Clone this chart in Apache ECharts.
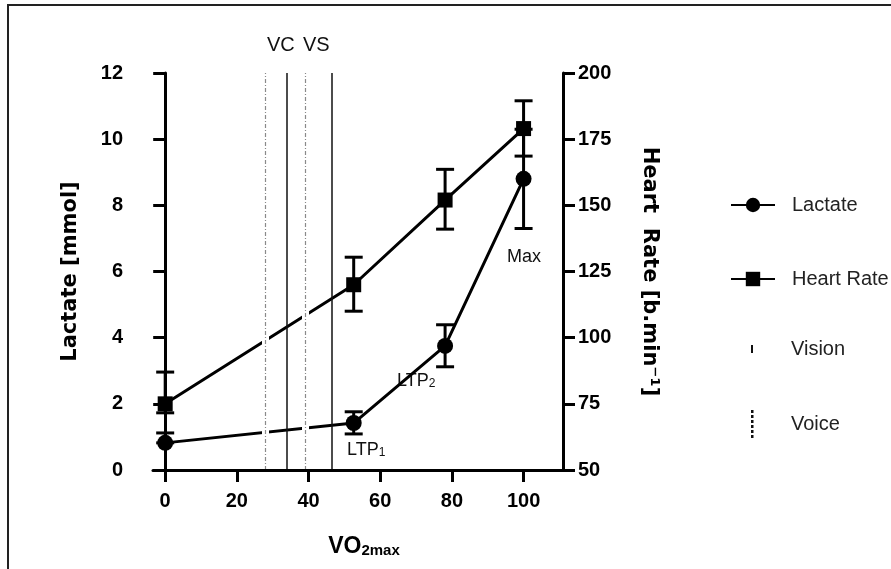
<!DOCTYPE html>
<html>
<head>
<meta charset="utf-8">
<script src="https://cdn.jsdelivr.net/npm/echarts@6/dist/echarts.min.js"></script>
<style>
  html, body { margin: 0; padding: 0; background: #fff; }
  #chart { width: 891px; height: 569px; }
</style>
</head>
<body>
<div id="chart"></div>
<script>
// ======================
// DATA
// ======================
const xTicks = [0, 20, 40, 60, 80, 100];

const lactateX = [0, 52.6, 78.1, 100];
const lactateMean = [0.82, 1.42, 3.75, 8.8];
const lactateLow = [0.82, 1.09, 3.12, 7.3];
const lactateHigh = [1.12, 1.76, 4.39, 10.3];

const hrX = [0, 52.6, 78.1, 100];
const hrMean = [75, 120, 152, 179];
const hrLow = [71.6, 110, 141, 168.6];
const hrHigh = [87, 130.4, 163.6, 189.5];

const visionX = [33.9, 46.4];
const voiceX = [28, 39.2];

// ======================
// STYLE
// ======================
const FONT = "'Liberation Sans', Arial, sans-serif";
const TITLE_FONT = "'DejaVu Sans', sans-serif";
const INK = "#000";

function makeIcon(w, h, draw) {
    const c = document.createElement("canvas");
    c.width = w;
    c.height = h;
    draw(c.getContext("2d"));
    return "image://" + c.toDataURL();
}

const visionIcon = makeIcon(44, 28, ctx => {
    ctx.fillStyle = "#111";
    ctx.fillRect(21, 10, 2, 8);
});
const voiceIcon = makeIcon(44, 28, ctx => {
    ctx.fillStyle = "#111";
    for (let y = 0; y < 28; y += 5) ctx.fillRect(21, y, 2.5, 3);
});

function renderErrorBar(params, api) {
    const x = api.value(0);
    const lo = api.coord([x, api.value(1)]);
    const hi = api.coord([x, api.value(2)]);
    const half = 9;
    const style = { stroke: INK, lineWidth: 3, fill: null };
    return {
        type: "group",
        children: [
            { type: "line", shape: { x1: lo[0], y1: lo[1], x2: hi[0], y2: hi[1] }, style },
            { type: "line", shape: { x1: lo[0] - half, y1: lo[1], x2: lo[0] + half, y2: lo[1] }, style },
            { type: "line", shape: { x1: hi[0] - half, y1: hi[1], x2: hi[0] + half, y2: hi[1] }, style }
        ]
    };
}

const axisCommon = {
    z: 10,
    axisLine: { lineStyle: { color: INK, width: 3 } },
    axisTick: { length: 12, lineStyle: { color: INK, width: 3 } },
    splitLine: { show: false },
    axisLabel: { color: INK, fontFamily: FONT, fontWeight: "bold", fontSize: 20 }
};

const legendText = { color: "#222", fontSize: 20, fontFamily: FONT, padding: [0, 0, 0, 12] };

const chart = echarts.init(document.getElementById("chart"), null, { renderer: "canvas" });

chart.setOption({
    animation: false,
    backgroundColor: "#fff",
    textStyle: { fontFamily: FONT },
    grid: { left: 153, top: 73, width: 410, height: 397, containLabel: false, outerBoundsMode: "none" },
    legend: [
        {
            orient: "vertical",
            left: 725,
            top: 190,
            itemWidth: 44,
            itemHeight: 18,
            itemGap: 54,
            selectedMode: false,
            textStyle: legendText,
            data: ["Lactate", "Heart Rate"]
        },
        {
            orient: "vertical",
            left: 725,
            top: 330,
            itemWidth: 44,
            itemHeight: 28,
            itemGap: 47,
            selectedMode: false,
            textStyle: legendText,
            data: [
                { name: "Vision", icon: visionIcon },
                { name: "Voice", icon: voiceIcon }
            ]
        }
    ],
    xAxis: {
        ...axisCommon,
        type: "value",
        min: -3.4,
        max: 111,
        axisTick: { ...axisCommon.axisTick, customValues: xTicks },
        axisLabel: { ...axisCommon.axisLabel, margin: 21, customValues: xTicks },
        name: "{a|VO}{b|2max}",
        nameLocation: "middle",
        nameGap: 62,
        nameTextStyle: {
            padding: [0, 0, 0, 12],
            rich: {
                a: { fontFamily: FONT, fontWeight: "bold", fontSize: 23, color: INK, verticalAlign: "bottom", lineHeight: 26 },
                b: { fontFamily: FONT, fontWeight: "bold", fontSize: 15, color: INK, verticalAlign: "bottom", lineHeight: 24 }
            }
        }
    },
    yAxis: [
        {
            ...axisCommon,
            type: "value",
            position: "left",
            min: 0,
            max: 12,
            interval: 2,
            axisLine: { ...axisCommon.axisLine, onZero: true },
            axisLabel: { ...axisCommon.axisLabel, margin: 30 },
            name: "Lactate [mmol]",
            nameLocation: "middle",
            nameGap: 72,
            nameTextStyle: { fontFamily: TITLE_FONT, fontWeight: "bold", fontSize: 21, color: INK }
        },
        {
            ...axisCommon,
            type: "value",
            position: "right",
            min: 50,
            max: 200,
            interval: 25,
            axisLine: { ...axisCommon.axisLine, onZero: false },
            axisLabel: { ...axisCommon.axisLabel, margin: 15 },
            name: "Heart  Rate [b.min\u207B\u00B9]",
            nameLocation: "middle",
            nameRotate: -90,
            nameGap: 76,
            nameTextStyle: { fontFamily: TITLE_FONT, fontWeight: "bold", fontSize: 21, color: INK }
        }
    ],
    graphic: [
        { type: "rect", z: -10, shape: { x: 8, y: 5, width: 1000, height: 1000 }, style: { fill: null, stroke: "#222", lineWidth: 2 } },
        { type: "text", left: 267, top: 35, style: { text: "VC", fill: "#111", font: "20px " + FONT } },
        { type: "text", left: 303, top: 35, style: { text: "VS", fill: "#111", font: "20px " + FONT } },
        {
            type: "text", left: 347, top: 441,
            style: {
                text: "{a|LTP}{b|1}",
                rich: {
                    a: { fontFamily: FONT, fontSize: 18, fill: "#111", verticalAlign: "bottom", lineHeight: 20 },
                    b: { fontFamily: FONT, fontSize: 12, fill: "#111", verticalAlign: "bottom", lineHeight: 16 }
                }
            }
        },
        {
            type: "text", left: 397, top: 372,
            style: {
                text: "{a|LTP}{b|2}",
                rich: {
                    a: { fontFamily: FONT, fontSize: 18, fill: "#111", verticalAlign: "bottom", lineHeight: 20 },
                    b: { fontFamily: FONT, fontSize: 12, fill: "#111", verticalAlign: "bottom", lineHeight: 16 }
                }
            }
        },
        { type: "text", left: 507, top: 248, style: { text: "Max", fill: "#111", font: "18px " + FONT } }
    ],
    series: [
        {
            name: "VoiceGap",
            type: "line",
            data: [],
            markLine: {
                silent: true,
                z: 5,
                symbol: ["none", "none"],
                label: { show: false },
                lineStyle: { color: "#fff", width: 7, type: "solid" },
                data: voiceX.map(v => ({ xAxis: v }))
            }
        },
        {
            name: "Voice",
            type: "line",
            data: [],
            itemStyle: { color: "#111" },
            markLine: {
                silent: true,
                z: 6,
                symbol: ["none", "none"],
                label: { show: false },
                lineStyle: { color: "#8a8a8a", width: 1.2, type: [4, 2, 1, 2] },
                data: voiceX.map(v => ({ xAxis: v }))
            }
        },
        {
            name: "Vision",
            type: "line",
            data: [],
            itemStyle: { color: "#111" },
            markLine: {
                silent: true,
                z: 6,
                symbol: ["none", "none"],
                label: { show: false },
                lineStyle: { color: "#111", width: 1.5, type: "solid" },
                data: visionX.map(v => ({ xAxis: v }))
            }
        },
        {
            name: "Lactate",
            type: "line",
            yAxisIndex: 0,
            z: 3,
            symbol: "circle",
            symbolSize: 16,
            itemStyle: { color: INK },
            lineStyle: { color: INK, width: 3 },
            data: lactateX.map((x, i) => [x, lactateMean[i]])
        },
        {
            name: "Heart Rate",
            type: "line",
            yAxisIndex: 1,
            z: 3,
            symbol: "rect",
            symbolSize: 15,
            itemStyle: { color: INK },
            lineStyle: { color: INK, width: 3 },
            data: hrX.map((x, i) => [x, hrMean[i]])
        },
        {
            name: "LactateErr",
            type: "custom",
            yAxisIndex: 0,
            z: 2,
            renderItem: renderErrorBar,
            encode: { x: 0, y: [1, 2] },
            data: lactateX.map((x, i) => [x, lactateLow[i], lactateHigh[i]])
        },
        {
            name: "HeartRateErr",
            type: "custom",
            yAxisIndex: 1,
            z: 2,
            renderItem: renderErrorBar,
            encode: { x: 0, y: [1, 2] },
            data: hrX.map((x, i) => [x, hrLow[i], hrHigh[i]])
        }
    ]
});
</script>
</body>
</html>
